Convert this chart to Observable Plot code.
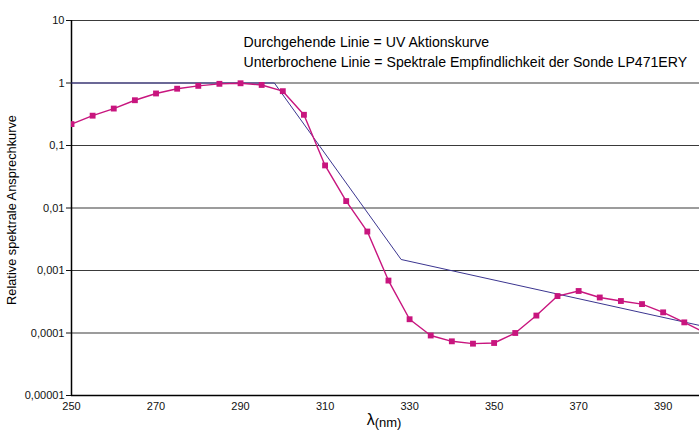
<!DOCTYPE html>
<html>
<head>
<meta charset="utf-8">
<script src="https://cdn.jsdelivr.net/npm/d3@7"></script>
<script src="https://cdn.jsdelivr.net/npm/@observablehq/plot@0.6"></script>
<style>
  html, body { margin: 0; padding: 0; background: #fff; overflow: hidden; }
  #chart { width: 699px; height: 437px; position: relative; }
</style>
</head>
<body>
<div id="chart"></div>
<script>
// Wavelengths (nm) of the probe measurement points
const wavelengths = [250,255,260,265,270,275,280,285,290,295,300,305,310,315,320,325,330,335,340,345,350,355,360,365,370,375,380,385,390,395,400];
// Spectral sensitivity of probe LP471ERY (dashed / marker series)
const probeValues = [0.22,0.30,0.39,0.53,0.68,0.81,0.90,0.97,0.99,0.93,0.74,0.31,0.048,0.0129,0.0042,0.00069,0.000166,0.0000912,0.0000736,0.0000675,0.0000692,0.0001,0.00019,0.00039,0.00047,0.00037,0.000325,0.00029,0.000214,0.000148,0.0001];
// UV action curve (solid line) breakpoints
const actionWavelengths = [250, 298, 328, 400];
const actionValues = [1, 1, 0.0015, 0.000126];
// Axis ticks
const xTicks = [250, 270, 290, 310, 330, 350, 370, 390];
const yTicks = [0.00001, 0.0001, 0.001, 0.01, 0.1, 1, 10];
const yTickLabels = ["0,00001", "0,0001", "0,001", "0,01", "0,1", "1", "10"];
const legendLine1 = "Durchgehende Linie = UV Aktionskurve";
const legendLine2 = "Unterbrochene Linie = Spektrale Empfindlichkeit der Sonde LP471ERY";
const yLabel = "Relative spektrale Ansprechkurve";

const probe = wavelengths.map((w, i) => ({w, v: probeValues[i]}));
const action = actionWavelengths.map((w, i) => ({w, v: actionValues[i]}));
const labelOf = new Map(yTicks.map((t, i) => [t, yTickLabels[i]]));
const FONT = "'Liberation Sans', Arial, sans-serif";

const plot = Plot.plot({
  width: 699,
  height: 437,
  marginLeft: 71,
  marginRight: 0,
  marginTop: 20,
  marginBottom: 42,
  style: {fontFamily: FONT, fontSize: "11px", color: "#111", background: "#fff"},
  x: {domain: [250, 398.6]},
  y: {type: "log", domain: [0.00001, 10]},
  marks: [
    Plot.ruleY(yTicks.filter(t => t > 0.00001), {stroke: "#3a3a3a", strokeWidth: 1.2}),
    Plot.ruleY([0.00001], {stroke: "#000", strokeWidth: 1.5}),
    Plot.ruleX([250], {stroke: "#000", strokeWidth: 1.5}),
    Plot.axisY({ticks: yTicks, tickFormat: d => labelOf.get(d), tickSize: 5, tickPadding: 2, label: null, fontSize: 11}),
    Plot.axisX({ticks: xTicks, tickFormat: d => String(d), tickSize: 0, tickPadding: 7, label: null, fontSize: 11}),
    Plot.line(action, {x: "w", y: "v", stroke: "#3b3590", strokeWidth: 1, clip: true}),
    Plot.line(probe, {x: "w", y: "v", stroke: "#c8157e", strokeWidth: 1.4, clip: true}),
    Plot.dot(probe, {x: "w", y: "v", symbol: "square", r: 3.3, fill: "#c8157e", stroke: "none", clip: true}),
    Plot.text([legendLine1], {text: d => d, frameAnchor: "top-left", textAnchor: "start", lineAnchor: "top", dx: 172, dy: 16, fontSize: 14.1, fill: "#000"}),
    Plot.text([legendLine2], {text: d => d, frameAnchor: "top-left", textAnchor: "start", lineAnchor: "top", dx: 172, dy: 36, fontSize: 14.1, fill: "#000"})
  ]
});

const svg = d3.select(plot);
// y-axis title, rotated
svg.append("text")
  .attr("transform", "translate(16,210) rotate(-90)")
  .attr("text-anchor", "middle")
  .attr("font-size", 12.8)
  .attr("font-family", FONT)
  .attr("fill", "#000")
  .text(yLabel);

// x-axis label: λ(nm) with larger lambda
const xl = svg.append("text")
  .attr("x", 384)
  .attr("y", 425)
  .attr("text-anchor", "middle")
  .attr("fill", "#000")
  .attr("font-family", FONT);
xl.append("tspan").attr("font-size", 16).text("λ");
xl.append("tspan").attr("font-size", 13).attr("dy", 2).text("(nm)");

document.getElementById("chart").appendChild(plot);
</script>
</body>
</html>
